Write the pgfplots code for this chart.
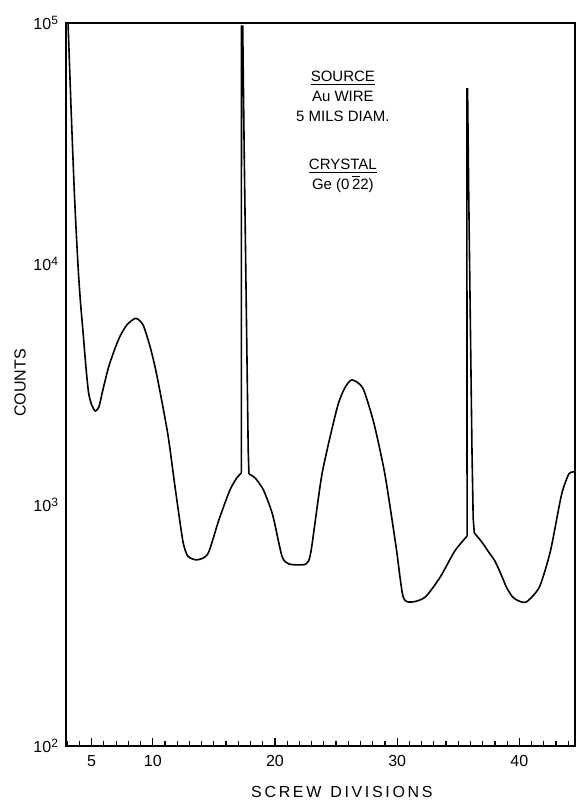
\documentclass[border=0pt]{standalone}
\usepackage{pgfplots}
\pgfplotsset{compat=1.18}
\usepackage{fontspec}
\setmainfont{Liberation Sans}
\usetikzlibrary{calc}
\begin{document}
\begin{tikzpicture}
\begin{axis}[
  scale only axis,
  width=254.5pt, height=361.5pt,
  ymode=log,
  xmin=2.9, xmax=44.55,
  ymin=100, ymax=100000,
  axis line style={line width=0.9pt},
  xtick={5,10,20,30,40},
  xticklabels={5,10,20,30,40},
  minor xtick={3,4,...,44},
  ytick={100,1000,10000,100000},
  yticklabels={10\textsuperscript{2},10\textsuperscript{3},10\textsuperscript{4},10\textsuperscript{5}},
  yminorticks=false,
  xtick pos=bottom, ytick pos=left,
  tick align=inside,
  major tick length=4pt, minor tick length=2.5pt,
  tick style={line width=0.6pt, black},
  ytick style={draw=none},
  tick label style={font=\fontsize{8}{9}\selectfont},
  xticklabel style={yshift=-1pt},
  xlabel={S\,C\,R\,E\,W\ \ D\,I\,V\,I\,S\,I\,O\,N\,S},
  ylabel={COUNTS},
  label style={font=\fontsize{8}{9}\selectfont},
  xlabel style={at={(axis description cs:0.542,-0.064)}, anchor=center},
  ylabel style={at={(axis description cs:-0.09,0.502)}, anchor=center, rotate=0},
  clip=true,
]
% segment 1
\addplot[black, line width=0.8pt, smooth, tension=0.4] coordinates {
 (3.04,110000) (3.32,43550) (3.61,18450) (3.88,9910) (4.07,7096) (4.30,5180)
 (4.53,3740) (4.75,2917) (5.0,2600) (5.30,2455) (5.6,2560) (5.95,3050)
 (6.39,3740) (6.9,4450) (7.35,5050) (7.9,5600) (8.6,5950) (9.2,5600)
 (9.8,4500) (10.33,3459) (11.23,1972) (11.80,1211) (12.46,710) (12.87,614)
 (13.61,592) (14.51,627) (15.41,867) (16.31,1153) (16.9,1300) (17.25,1358)
};
% spike 1
\addplot[black, line width=0.8pt] coordinates {
 (17.25,1358) (17.26,97000) (17.36,97000) (17.48,29700) (17.81,1690) (17.87,1346)
};
% segment 2
\addplot[black, line width=0.8pt, smooth, tension=0.4] coordinates {
 (17.87,1346) (18.4,1290) (19.06,1153) (19.81,910) (20.57,614) (21.15,569)
 (22.54,569) (22.95,644) (23.85,1346) (25.08,2523) (25.7,3050) (26.29,3304)
 (27.19,3055) (28.09,2188) (28.99,1346) (29.90,676) (30.49,415) (31.23,396)
 (32.30,415) (33.52,502) (34.71,644) (35.72,743)
};
% spike 2
\addplot[black, line width=0.8pt] coordinates {
 (35.72,743) (35.70,53200) (35.76,53200) (35.86,18450) (36.12,1690) (36.22,880) (36.31,766)
};
% segment 3
\addplot[black, line width=0.8pt, smooth, tension=0.4] coordinates {
 (36.31,766) (36.9,705) (37.43,644) (38.0,585) (38.5,515) (38.93,457) (39.4,418)
 (39.84,402) (40.57,396) (41.64,457) (42.54,644) (43.44,1099) (44.05,1346) (44.55,1371)
};
\node[align=center, font=\fontsize{7.5}{10}\selectfont, inner sep=0pt]
  at (axis description cs:0.544,0.849)
  {\underline{SOURCE}\\Au WIRE\\5 MILS DIAM.\\[14pt]\underline{CRYSTAL}\\Ge (0\,$\overline{\hbox{2}}$2)};
\end{axis}
\pgfresetboundingbox
\path ($(current axis.south west)+(-33pt,-27pt)$) rectangle ($(current axis.north east)+(0.5pt,11.5pt)$);
\end{tikzpicture}
\end{document}
